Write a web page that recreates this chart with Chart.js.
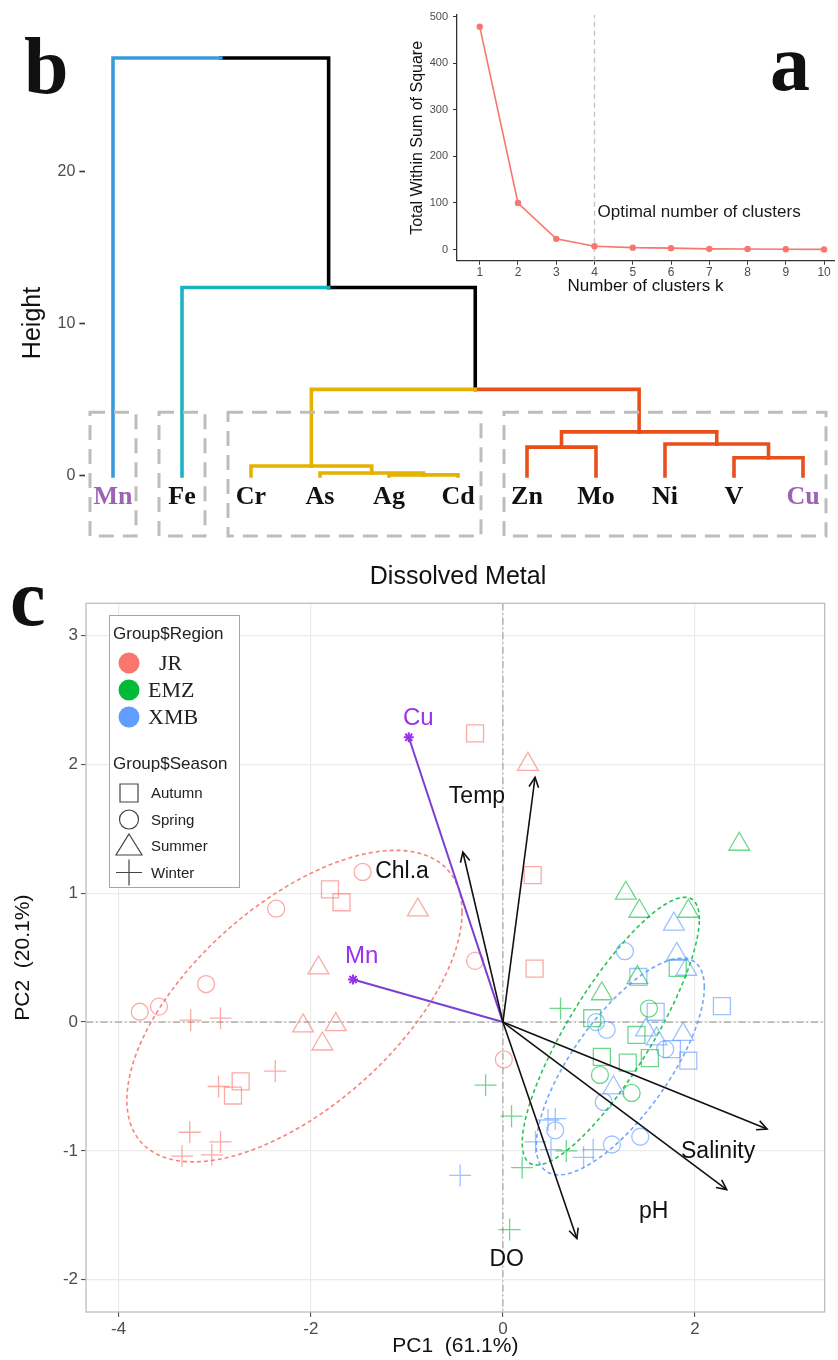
<!DOCTYPE html>
<html>
<head>
<meta charset="utf-8">
<script src="https://cdn.jsdelivr.net/npm/chart.js@4.4.0/dist/chart.umd.min.js"></script>
<style>
  body { margin: 0; background: #fff; }
  #wrap { position: relative; width: 838px; height: 1360px; overflow: hidden; background: #fff; }
  canvas { position: absolute; }
  .tag { position: absolute; font-family: 'Liberation Serif', 'Times New Roman', serif; font-weight: bold; color: #111; line-height: 1; font-size: 80px; }
</style>
</head>
<body>
<div id="wrap">
  <canvas id="dend" width="838" height="600" style="left:0;top:0;width:838px;height:600px"></canvas>
  <canvas id="elbow" width="443" height="300" style="left:395px;top:0;width:443px;height:300px"></canvas>
  <canvas id="pca" width="838" height="770" style="left:0;top:590px;width:838px;height:770px"></canvas>
  <div class="tag" style="left:24px;top:26px">b</div>
  <div class="tag" style="left:770px;top:23px">a</div>
  <div class="tag" style="left:10px;top:558px">c</div>
</div>
<script>
// ==========================================
// DATOS: DENDROGRAMA (b)
// ==========================================
const leafNames = ['Mn', 'Fe', 'Cr', 'As', 'Ag', 'Cd', 'Zn', 'Mo', 'Ni', 'V', 'Cu'];
const highlightLeaves = ['Mn', 'Cu'];
// merges like hclust: negative = leaf (1-based), positive = earlier merge
const mergeLeft   = [-5, -4, -3, -10, -7, -9, 5, 3, -2, -1];
const mergeRight  = [-6,  1,  2, -11, -8,  4, 6, 7,  8,  9];
const mergeHeight = [0.07, 0.2, 0.66, 1.2, 1.9, 2.1, 2.9, 5.7, 12.4, 27.5];
const clusterOfLeaf = [1, 2, 3, 3, 3, 3, 4, 4, 4, 4, 4];
const heightTicks = [0, 10, 20];

// ==========================================
// DATOS: CODO (a)
// ==========================================
const clusterK = [1, 2, 3, 4, 5, 6, 7, 8, 9, 10];
const totalWithinSS = [479, 100, 23, 7, 4, 3, 1.5, 1, 0.5, 0.3];
const optimalK = 4;
const wssTicks = [0, 100, 200, 300, 400, 500];

// ==========================================
// DATOS: PCA BIPLOT (c)  [PC1, PC2]
// ==========================================
const regions = ['JR', 'EMZ', 'XMB'];
const seasons = ['Autumn', 'Spring', 'Summer', 'Winter'];

const jrAutumn  = [[-1.80, 1.03], [-1.68, 0.93], [-2.73, -0.46], [-2.81, -0.57], [-0.29, 2.24], [0.31, 1.14], [0.33, 0.415]];
const jrSpring  = [[-1.46, 1.165], [-2.36, 0.88], [-3.09, 0.295], [-3.78, 0.08], [-3.58, 0.12], [-0.29, 0.475], [0.01, -0.29]];
const jrSummer  = [[-0.885, 0.87], [-1.92, 0.42], [-2.08, -0.03], [-1.74, -0.02], [-1.88, -0.17], [0.26, 2.0]];
const jrWinter  = [[-3.25, 0.015], [-2.94, 0.03], [-2.37, -0.38], [-2.96, -0.50], [-3.26, -0.855], [-2.94, -0.93], [-3.34, -1.04], [-3.03, -1.03]];

const emzAutumn = [[1.82, 0.42], [0.93, 0.03], [1.39, -0.10], [1.03, -0.27], [1.30, -0.315], [1.53, -0.28]];
const emzSpring = [[1.52, 0.105], [1.01, -0.41], [1.34, -0.55]];
const emzSummer = [[1.28, 1.0], [1.42, 0.86], [1.93, 0.86], [1.40, 0.345], [1.03, 0.22], [2.46, 1.38]];
const emzWinter = [[0.60, 0.106], [-0.18, -0.49], [0.09, -0.73], [0.66, -1.0], [0.20, -1.13], [0.07, -1.61]];

const xmbAutumn = [[1.41, 0.35], [1.59, 0.08], [2.28, 0.124], [1.76, -0.21], [1.93, -0.30]];
const xmbSpring = [[1.27, 0.55], [0.97, 0.0], [1.08, -0.06], [1.69, -0.21], [1.05, -0.62], [0.545, -0.84], [1.135, -0.95], [1.43, -0.89]];
const xmbSummer = [[1.78, 0.76], [1.81, 0.525], [1.91, 0.41], [1.49, -0.06], [1.60, -0.13], [1.875, -0.095], [1.15, -0.51]];
const xmbWinter = [[0.545, -0.75], [0.47, -0.76], [0.34, -0.93], [0.50, -0.99], [0.84, -1.05], [0.94, -0.99], [-0.445, -1.19]];

// ellipses per region: centre, half extents and phase
const ellipseCX = [-2.17, 1.123, 1.222];
const ellipseCY = [0.124, -0.07, -0.345];
const ellipseAX = [1.745, 0.922, 0.875];
const ellipseAY = [1.209, 1.039, 0.841];
const ellipsePhase = [0.923, 0.582, 0.75];

// environmental vectors
const envNames = ['Temp', 'Chl.a', 'Salinity', 'pH', 'DO'];
const envX = [0.335, -0.417, 2.75, 2.33, 0.77];
const envY = [1.90, 1.32, -0.83, -1.30, -1.68];
const envLabelX = [-0.27, -1.05, 2.24, 1.57, 0.04];
const envLabelY = [1.75, 1.17, -1.005, -1.47, -1.84];

// supplementary metals
const metalNames = ['Cu', 'Mn'];
const metalX = [-0.98, -1.56];
const metalY = [2.21, 0.33];
const metalLabelX = [-0.88, -1.47];
const metalLabelY = [2.36, 0.51];

const pcaXTicks = [-4, -2, 0, 2];
const pcaYTicks = [-2, -1, 0, 1, 2, 3];

// ==========================================
// ESTILOS
// ==========================================
const sans = "'Liberation Sans', Arial, Helvetica, sans-serif";
const serif = "'Liberation Serif', 'Times New Roman', serif";
Chart.defaults.font.family = sans;
Chart.defaults.animation = false;

const clusterColors = ['#3a9bdc', '#1cb3c1', '#e5b200', '#e84f1b'];
const regionSolid = ['#f8766d', '#00ba38', '#619cff'];
const regionPale = ['rgba(248,118,109,0.62)', 'rgba(0,186,56,0.58)', 'rgba(97,156,255,0.62)'];
const regionEllipse = ['rgba(248,118,109,0.9)', 'rgba(0,186,56,0.85)', 'rgba(97,156,255,0.9)'];
const seasonStyle = [
  { pointStyle: 'rect', radius: 12 },
  { pointStyle: 'circle', radius: 8.5 },
  { pointStyle: 'triangle', radius: 12 },
  { pointStyle: 'cross', radius: 11 }
];
const purpleLine = '#7a3fd4';
const purpleText = '#9a30f0';

// ==========================================
// DENDROGRAMA
// ==========================================
const nodes = [];
function refInfo(ref) {
  if (ref < 0) return { x: -ref, h: 0, cl: clusterOfLeaf[-ref - 1] };
  return nodes[ref - 1];
}
mergeHeight.forEach((h, k) => {
  const a = refInfo(mergeLeft[k]);
  const b = refInfo(mergeRight[k]);
  nodes.push({ x: (a.x + b.x) / 2, h: h, cl: a.cl === b.cl ? a.cl : 0, kids: [a, b] });
});

const dendSets = [];
nodes.forEach(n => {
  n.kids.forEach(c => {
    dendSets.push({
      data: [{ x: n.x, y: n.h }, { x: c.x, y: n.h }, { x: c.x, y: c.h }],
      showLine: true,
      borderColor: c.cl ? clusterColors[c.cl - 1] : '#000',
      borderWidth: 3.6,
      pointRadius: 0,
      borderCapStyle: 'square',
      borderJoinStyle: 'miter'
    });
  });
});

function clusterRanges() {
  const out = [];
  clusterOfLeaf.forEach((c, i) => {
    const last = out[out.length - 1];
    if (last && last.c === c) last.b = i + 1;
    else out.push({ c: c, a: i + 1, b: i + 1 });
  });
  return out;
}

const dendDecor = {
  id: 'dendDecor',
  afterDatasetsDraw(chart) {
    const { ctx, scales: { x, y } } = chart;
    ctx.save();
    // cajas punteadas
    ctx.strokeStyle = '#bdbdbd';
    ctx.lineWidth = 3;
    ctx.setLineDash([15, 9]);
    clusterRanges().forEach(r => {
      const l = x.getPixelForValue(r.a - 1 / 3);
      const rr = x.getPixelForValue(r.b + 1 / 3);
      const t = y.getPixelForValue(4.2);
      const b = y.getPixelForValue(-3.95);
      ctx.strokeRect(l, t, rr - l, b - t);
    });
    ctx.setLineDash([]);
    // etiquetas de hojas
    ctx.font = 'bold 26px ' + serif;
    ctx.textAlign = 'center';
    ctx.textBaseline = 'middle';
    leafNames.forEach((name, i) => {
      ctx.fillStyle = highlightLeaves.includes(name) ? '#9c62b4' : '#111';
      ctx.fillText(name, x.getPixelForValue(i + 1), y.getPixelForValue(-1.38));
    });
    // titulo eje y
    ctx.translate(33, 323);
    ctx.rotate(-Math.PI / 2);
    ctx.fillStyle = '#111';
    ctx.font = '25px ' + sans;
    ctx.fillText('Height', 0, 0);
    ctx.restore();
  }
};

new Chart(document.getElementById('dend'), {
  type: 'scatter',
  data: { datasets: dendSets },
  options: {
    responsive: false,
    layout: { padding: { left: 0, right: 7.4, top: 40, bottom: 0 } },
    plugins: { legend: { display: false }, tooltip: { enabled: false } },
    scales: {
      x: {
        type: 'linear', min: 0.6, max: 11.4,
        ticks: { display: false },
        grid: { display: false },
        border: { display: false },
        title: { display: true, text: 'Dissolved Metal', color: '#111', font: { size: 25 }, padding: { top: 0, bottom: 8 } },
        afterFit(s) { s.height = 55; }
      },
      y: {
        min: -4.54, max: 28.68,
        afterBuildTicks(s) { s.ticks = heightTicks.map(v => ({ value: v })); },
        ticks: { color: '#4d4d4d', font: { size: 16 }, padding: 4 },
        grid: { drawOnChartArea: false, tickLength: 6, tickColor: '#333', tickWidth: 1.6 },
        border: { display: false },
        afterFit(s) { s.width = 85.4; }
      }
    }
  },
  plugins: [dendDecor]
});

// ==========================================
// GRAFICO DEL CODO (a)
// ==========================================
const elbowDecor = {
  id: 'elbowDecor',
  afterDatasetsDraw(chart) {
    const { ctx, scales: { x, y } } = chart;
    ctx.save();
    ctx.font = '17px ' + sans;
    ctx.fillStyle = '#1a1a1a';
    ctx.textBaseline = 'middle';
    ctx.textAlign = 'left';
    ctx.fillText('Optimal number of clusters', x.getPixelForValue(optimalK) + 3, y.getPixelForValue(80));
    ctx.restore();
  }
};

new Chart(document.getElementById('elbow'), {
  type: 'scatter',
  data: {
    datasets: [
      {
        data: clusterK.map((k, i) => ({ x: k, y: totalWithinSS[i] })),
        showLine: true,
        borderColor: '#f8766d',
        backgroundColor: '#f8766d',
        borderWidth: 1.6,
        pointRadius: 3.2,
        pointBorderWidth: 0
      },
      {
        data: [{ x: optimalK, y: -24 }, { x: optimalK, y: 504 }],
        showLine: true,
        borderColor: '#c4c4c4',
        borderWidth: 1.4,
        borderDash: [5, 4],
        pointRadius: 0
      }
    ]
  },
  options: {
    responsive: false,
    layout: { padding: { left: 0, right: 0, top: 15, bottom: 0 } },
    plugins: { legend: { display: false }, tooltip: { enabled: false } },
    scales: {
      x: {
        type: 'linear', min: 0.406, max: 10.26,
        afterBuildTicks(s) { s.ticks = clusterK.map(v => ({ value: v })); },
        ticks: { color: '#4d4d4d', font: { size: 12 }, padding: 1 },
        grid: { drawOnChartArea: false, tickLength: 4, tickColor: '#333', tickWidth: 1 },
        border: { display: true, color: '#333', width: 1.3 },
        title: { display: true, text: 'Number of clusters k', color: '#111', font: { size: 17 }, padding: { top: 0, bottom: 3 } },
        afterFit(s) { s.height = 39.3; }
      },
      y: {
        min: -24, max: 504,
        afterBuildTicks(s) { s.ticks = wssTicks.map(v => ({ value: v })); },
        ticks: { color: '#4d4d4d', font: { size: 11 }, padding: 5 },
        grid: { drawOnChartArea: false, tickLength: 4, tickColor: '#333', tickWidth: 1 },
        border: { display: true, color: '#333', width: 1.3 },
        title: { display: true, text: 'Total Within Sum of Square', color: '#111', font: { size: 16 }, padding: { top: 13, bottom: 0 } },
        afterFit(s) { s.width = 62; }
      }
    }
  },
  plugins: [elbowDecor]
});

// ==========================================
// PCA BIPLOT (c)
// ==========================================
const scores = [
  [jrAutumn, jrSpring, jrSummer, jrWinter],
  [emzAutumn, emzSpring, emzSummer, emzWinter],
  [xmbAutumn, xmbSpring, xmbSummer, xmbWinter]
];

const pcaSets = [];

// vectores ambientales (encima)
envNames.forEach((name, i) => {
  pcaSets.push({
    data: [{ x: 0, y: 0 }, { x: envX[i], y: envY[i] }],
    showLine: true, borderColor: '#111', borderWidth: 1.6, pointRadius: 0
  });
});
metalNames.forEach((name, i) => {
  pcaSets.push({
    data: [{ x: 0, y: 0 }, { x: metalX[i], y: metalY[i] }],
    showLine: true, borderColor: purpleLine, borderWidth: 2, pointRadius: 0
  });
});
pcaSets.push({
  data: metalNames.map((n, i) => ({ x: metalX[i], y: metalY[i] })),
  pointStyle: 'star', pointRadius: 5, borderColor: purpleText, borderWidth: 2, backgroundColor: purpleText
});

// elipses
regions.forEach((r, g) => {
  const pts = [];
  for (let s = 0; s <= 120; s++) {
    const t = s / 120 * Math.PI * 2;
    pts.push({ x: ellipseCX[g] + ellipseAX[g] * Math.cos(t), y: ellipseCY[g] + ellipseAY[g] * Math.cos(t - ellipsePhase[g]) });
  }
  pcaSets.push({
    data: pts, showLine: true, borderColor: regionEllipse[g], borderWidth: 1.6,
    borderDash: [4, 3], pointRadius: 0, tension: 0
  });
});

// puntos
scores.forEach((bySeason, g) => {
  bySeason.forEach((pts, s) => {
    pcaSets.push({
      data: pts.map(p => ({ x: p[0], y: p[1] })),
      pointStyle: seasonStyle[s].pointStyle,
      pointRadius: seasonStyle[s].radius,
      borderColor: regionPale[g],
      backgroundColor: 'rgba(0,0,0,0)',
      borderWidth: 1.3
    });
  });
});

function drawLegend(ctx) {
  ctx.save();
  ctx.fillStyle = '#fff';
  ctx.fillRect(109, 25, 130, 272);
  ctx.strokeStyle = '#a6a6a6';
  ctx.lineWidth = 1;
  ctx.strokeRect(109.5, 25.5, 130, 272);
  ctx.textAlign = 'left';
  ctx.textBaseline = 'middle';
  ctx.fillStyle = '#222';
  ctx.font = '17px ' + sans;
  ctx.fillText('Group$Region', 113, 44);
  regions.forEach((r, i) => {
    const cy = 73 + i * 27;
    ctx.beginPath();
    ctx.arc(129, cy, 10.5, 0, Math.PI * 2);
    ctx.fillStyle = regionSolid[i];
    ctx.fill();
    ctx.fillStyle = '#222';
    ctx.font = '22px ' + serif;
    ctx.fillText((i === 0 ? '  ' : '') + r, 148, cy + 1);
  });
  ctx.font = '17px ' + sans;
  ctx.fillText('Group$Season', 113, 174);
  ctx.strokeStyle = '#444';
  ctx.lineWidth = 1.2;
  seasons.forEach((s, i) => {
    const cy = 203 + i * 26.5;
    ctx.beginPath();
    if (i === 0) ctx.rect(120, cy - 9, 18, 18);
    if (i === 1) ctx.arc(129, cy, 9.5, 0, Math.PI * 2);
    if (i === 2) { ctx.moveTo(129, cy - 12); ctx.lineTo(142, cy + 9); ctx.lineTo(116, cy + 9); ctx.closePath(); }
    if (i === 3) { ctx.moveTo(116, cy); ctx.lineTo(142, cy); ctx.moveTo(129, cy - 13); ctx.lineTo(129, cy + 13); }
    ctx.stroke();
    ctx.fillStyle = '#222';
    ctx.font = '15px ' + sans;
    ctx.fillText(s, 151, cy + 1);
  });
  ctx.restore();
}

const pcaDecor = {
  id: 'pcaDecor',
  beforeDatasetsDraw(chart) {
    const { ctx, chartArea: a, scales: { x, y } } = chart;
    ctx.save();
    const x0 = x.getPixelForValue(0);
    const y0 = y.getPixelForValue(0);
    ctx.strokeStyle = '#a3a3a3';
    ctx.lineWidth = 1.2;
    ctx.setLineDash([7, 3, 1.5, 3]);
    ctx.beginPath();
    ctx.moveTo(x0, a.top); ctx.lineTo(x0, a.bottom);
    ctx.moveTo(a.left, y0); ctx.lineTo(a.right, y0);
    ctx.stroke();
    ctx.setLineDash([]);
    ctx.strokeStyle = '#bdbdbd';
    ctx.lineWidth = 1.3;
    ctx.strokeRect(a.left, a.top, a.right - a.left, a.bottom - a.top);
    ctx.restore();
  },
  afterDatasetsDraw(chart) {
    const { ctx, scales: { x, y } } = chart;
    ctx.save();
    // puntas de flecha
    ctx.strokeStyle = '#111';
    ctx.lineWidth = 1.6;
    envNames.forEach((n, i) => {
      const px = x.getPixelForValue(envX[i]);
      const py = y.getPixelForValue(envY[i]);
      const ang = Math.atan2(py - y.getPixelForValue(0), px - x.getPixelForValue(0));
      const len = 11, spread = 0.45;
      ctx.beginPath();
      ctx.moveTo(px - len * Math.cos(ang - spread), py - len * Math.sin(ang - spread));
      ctx.lineTo(px, py);
      ctx.lineTo(px - len * Math.cos(ang + spread), py - len * Math.sin(ang + spread));
      ctx.stroke();
    });
    // etiquetas
    ctx.textAlign = 'center';
    ctx.textBaseline = 'middle';
    ctx.font = '23px ' + sans;
    ctx.fillStyle = '#111';
    envNames.forEach((n, i) => {
      ctx.fillText(n, x.getPixelForValue(envLabelX[i]), y.getPixelForValue(envLabelY[i]));
    });
    ctx.fillStyle = purpleText;
    ctx.font = '24px ' + sans;
    metalNames.forEach((n, i) => {
      ctx.fillText(n, x.getPixelForValue(metalLabelX[i]), y.getPixelForValue(metalLabelY[i]));
    });
    ctx.restore();
  },
  afterDraw(chart) {
    drawLegend(chart.ctx);
  }
};

new Chart(document.getElementById('pca'), {
  type: 'scatter',
  data: { datasets: pcaSets },
  options: {
    responsive: false,
    layout: { padding: { left: 0, right: 13, top: 13, bottom: 0 } },
    plugins: { legend: { display: false }, tooltip: { enabled: false } },
    scales: {
      x: {
        type: 'linear', min: -4.34, max: 3.35,
        afterBuildTicks(s) { s.ticks = pcaXTicks.map(v => ({ value: v })); },
        ticks: { color: '#4d4d4d', font: { size: 17 }, padding: 2 },
        grid: { color: '#ebebeb', lineWidth: 1.2, tickLength: 5, tickColor: '#444', tickWidth: 1 },
        border: { display: false },
        title: { display: true, text: 'PC1  (61.1%)', color: '#111', font: { size: 21 }, padding: { top: 0, bottom: 1 } },
        afterFit(s) { s.height = 48; }
      },
      y: {
        min: -2.25, max: 3.25,
        afterBuildTicks(s) { s.ticks = pcaYTicks.map(v => ({ value: v })); },
        ticks: { color: '#4d4d4d', font: { size: 17 }, padding: 3 },
        grid: { color: '#ebebeb', lineWidth: 1.2, tickLength: 5, tickColor: '#444', tickWidth: 1 },
        border: { display: false },
        title: { display: true, text: 'PC2  (20.1%)', color: '#111', font: { size: 21 }, padding: { top: 11, bottom: 0 } },
        afterFit(s) { s.width = 86; }
      }
    }
  },
  plugins: [pcaDecor]
});
</script>
</body>
</html>
